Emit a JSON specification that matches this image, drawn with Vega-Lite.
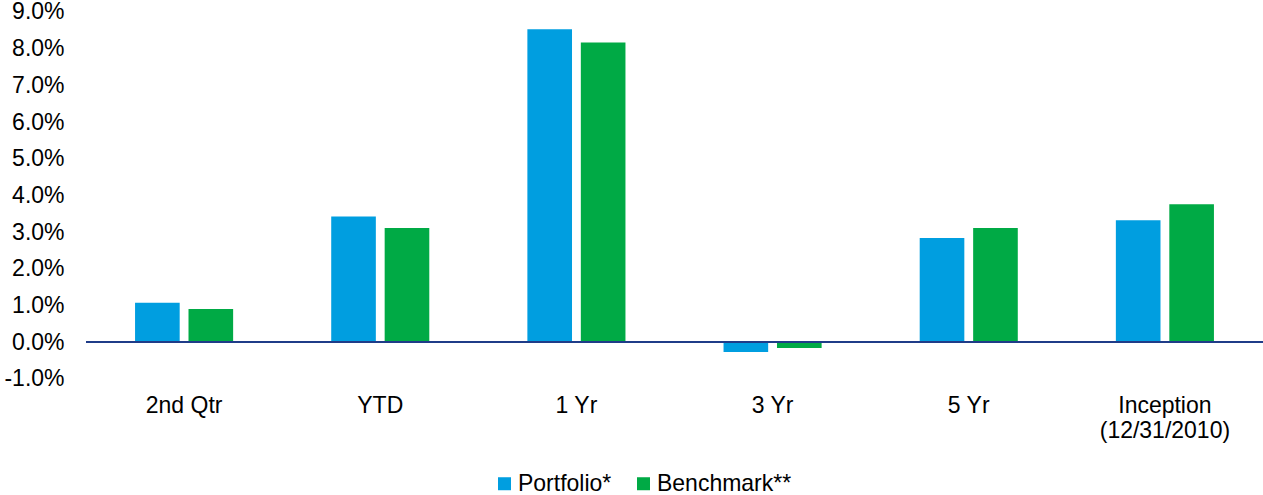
{
  "$schema": "https://vega.github.io/schema/vega-lite/v6.json",
  "width": 1177,
  "height": 366.7,
  "autosize": {"type": "none"},
  "padding": {"left": 86, "top": 12, "right": 0, "bottom": 116},
  "config": {
    "view": {"stroke": null},
    "font": "Liberation Sans",
    "axis": {"labelOverlap": false},
    "axisY": {"labelOverlap": false, "labelFontSize": 23, "labelPadding": 22, "domain": false, "ticks": false, "grid": false, "labelColor": "#000000"}
  },
  "data": {
    "values": [
      {"period": "2nd Qtr", "series": "Portfolio*", "value": 1.07},
      {"period": "2nd Qtr", "series": "Benchmark**", "value": 0.90},
      {"period": "YTD", "series": "Portfolio*", "value": 3.42},
      {"period": "YTD", "series": "Benchmark**", "value": 3.11},
      {"period": "1 Yr", "series": "Portfolio*", "value": 8.53},
      {"period": "1 Yr", "series": "Benchmark**", "value": 8.17},
      {"period": "3 Yr", "series": "Portfolio*", "value": -0.27},
      {"period": "3 Yr", "series": "Benchmark**", "value": -0.16},
      {"period": "5 Yr", "series": "Portfolio*", "value": 2.84},
      {"period": "5 Yr", "series": "Benchmark**", "value": 3.11},
      {"period": "Inception (12/31/2010)", "series": "Portfolio*", "value": 3.32},
      {"period": "Inception (12/31/2010)", "series": "Benchmark**", "value": 3.76}
    ]
  },
  "layer": [
    {
      "mark": {"type": "bar"},
      "encoding": {
        "x": {
          "field": "period",
          "type": "nominal",
          "sort": ["2nd Qtr", "YTD", "1 Yr", "3 Yr", "5 Yr", "Inception (12/31/2010)"],
          "scale": {"paddingInner": 0.5, "paddingOuter": 0.25},
          "axis": {
            "title": null,
            "labelAngle": 0,
            "domain": false,
            "ticks": false,
            "grid": false,
            "labelFontSize": 23,
            "labelColor": "#000000",
            "labelPadding": 16,
            "labelLineHeight": 25,
            "labelLimit": 300,
            "labelOverlap": false,
            "labelExpr": "datum.label == 'Inception (12/31/2010)' ? ['Inception', '(12/31/2010)'] : datum.label"
          }
        },
        "xOffset": {
          "field": "series",
          "type": "nominal",
          "sort": ["Portfolio*", "Benchmark**"],
          "scale": {"paddingInner": 0.165, "paddingOuter": 0}
        },
        "y": {
          "field": "value",
          "type": "quantitative",
          "scale": {"domain": [-1, 9], "nice": false, "zero": false},
          "axis": {
            "title": null,
            "values": [-1, 0, 1, 2, 3, 4, 5, 6, 7, 8, 9],
            "labelOverlap": false,
            "labelExpr": "(datum.value < 0 ? '-' : '') + format(abs(datum.value), '.1f') + '%'"
          }
        },
        "color": {
          "field": "series",
          "type": "nominal",
          "scale": {"domain": ["Portfolio*", "Benchmark**"], "range": ["#009EE0", "#00AA45"]},
          "legend": {
            "title": null,
            "orient": "none",
            "legendX": 407,
            "legendY": 460,
            "direction": "horizontal",
            "symbolType": "square",
            "symbolSize": 169,
            "symbolStrokeWidth": 0,
            "labelFontSize": 23,
            "labelColor": "#000000",
            "labelOffset": 2,
            "columnPadding": 20,
            "labelLimit": 300
          }
        }
      }
    },
    {
      "mark": {"type": "rule", "color": "#1F3C88", "strokeWidth": 2},
      "encoding": {
        "y": {
          "datum": 0,
          "type": "quantitative",
          "axis": {
            "title": null,
            "values": [-1, 0, 1, 2, 3, 4, 5, 6, 7, 8, 9],
            "labelOverlap": false,
            "labelExpr": "(datum.value < 0 ? '-' : '') + format(abs(datum.value), '.1f') + '%'"
          }
        }
      }
    }
  ]
}
